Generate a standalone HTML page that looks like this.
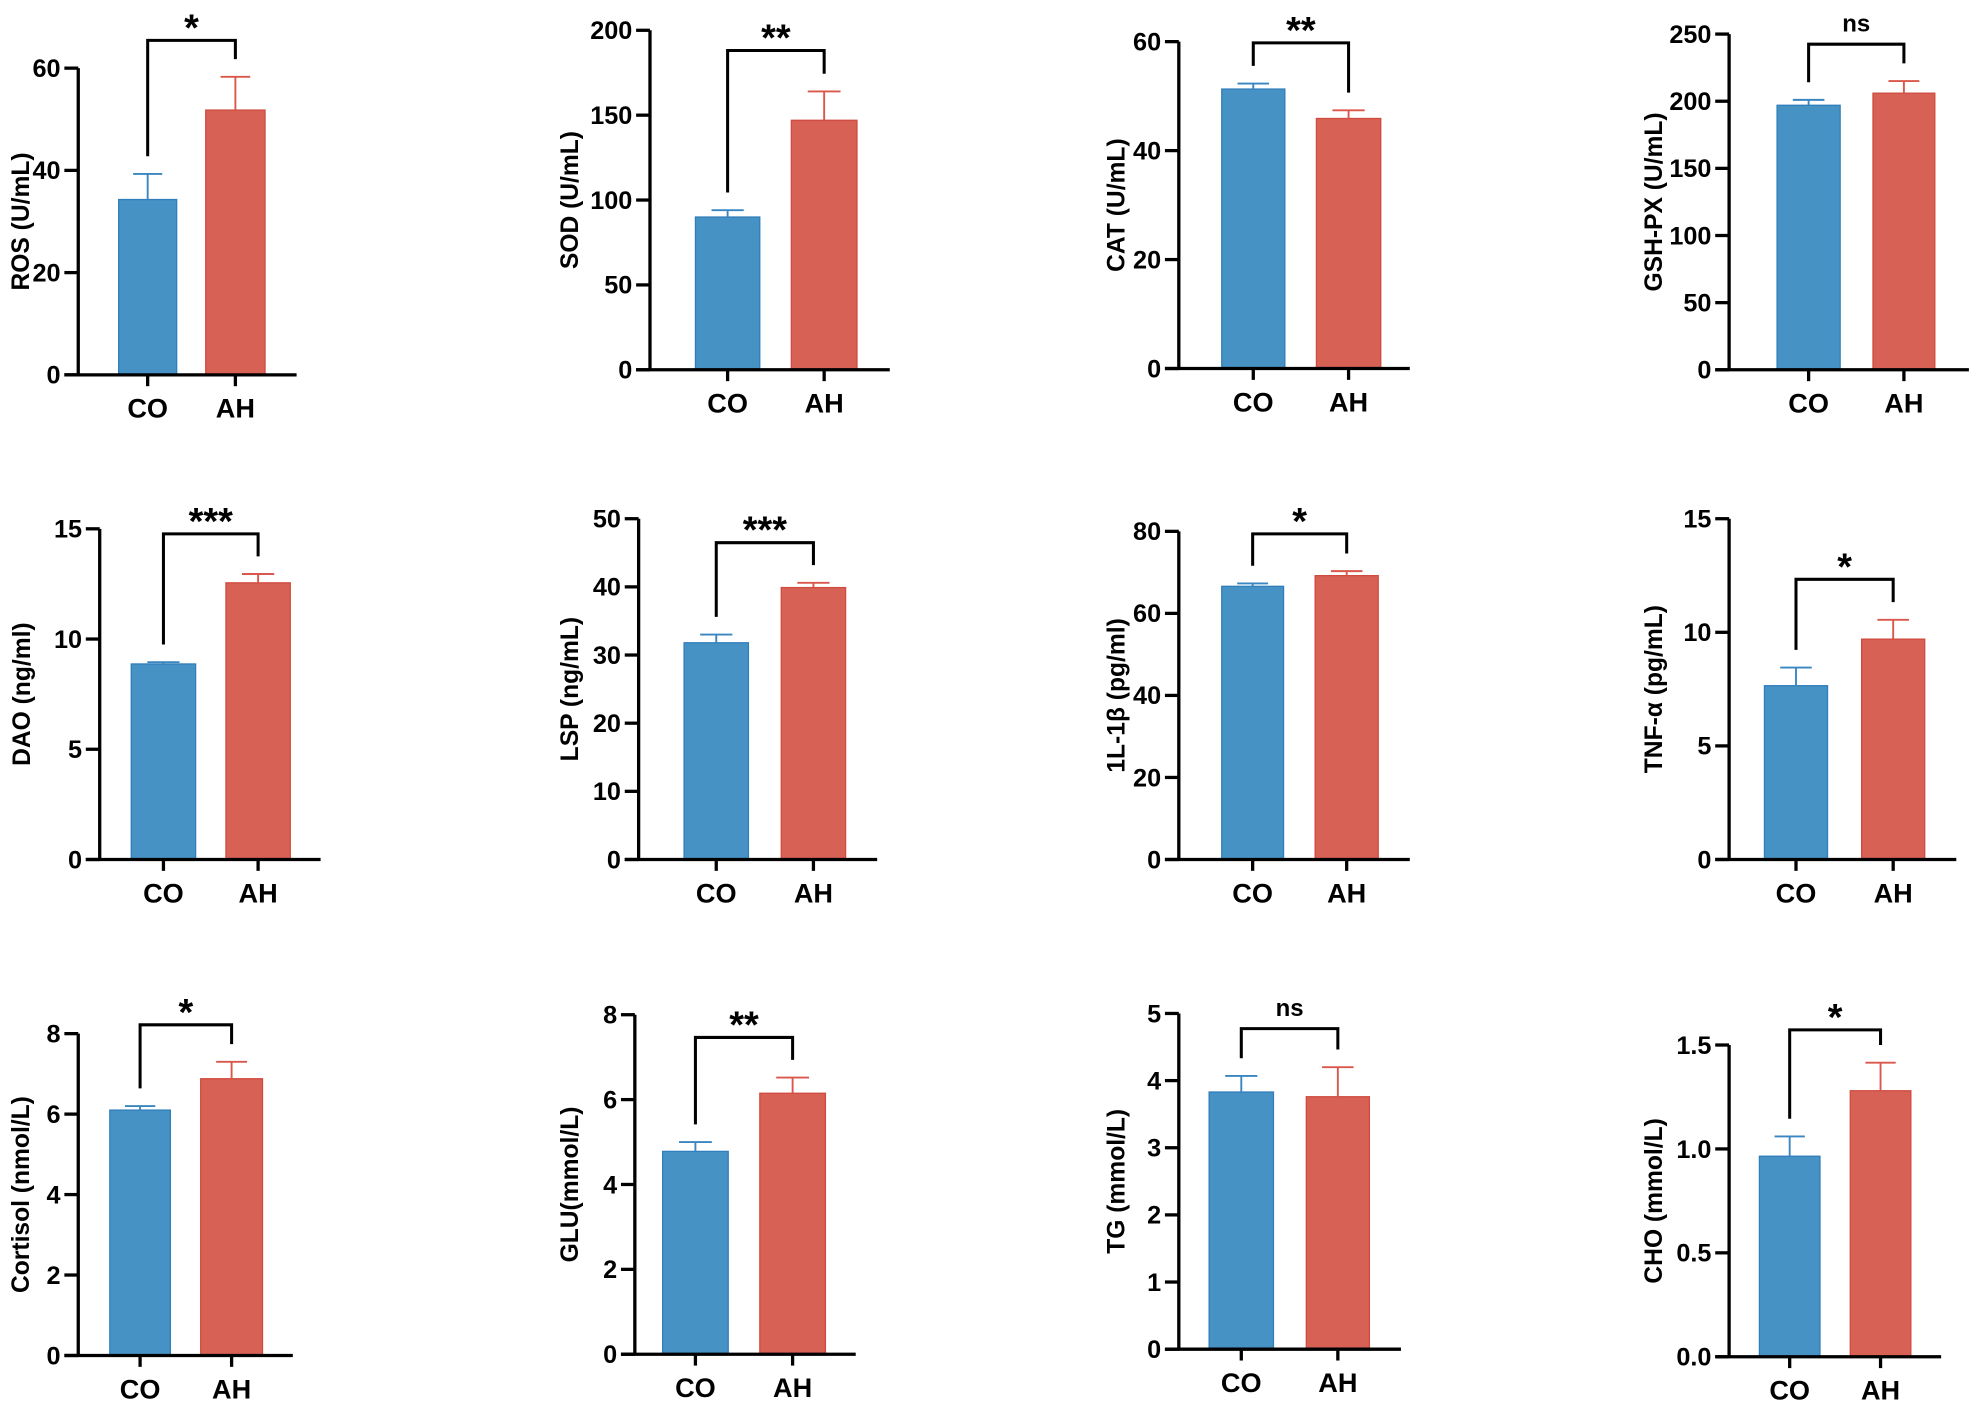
<!DOCTYPE html>
<html><head><meta charset="utf-8"><style>
html,body{margin:0;padding:0;background:#fff;}
svg{display:block;}
text{font-family:"Liberation Sans",Arial,sans-serif;font-weight:bold;fill:#000;}
</style></head><body>
<svg id="fig" width="1979" height="1409" viewBox="0 0 1568 1116.4" preserveAspectRatio="none" xmlns="http://www.w3.org/2000/svg"></svg>
<script>
const titles=["ROS (U/mL)","SOD (U/mL)","CAT (U/mL)","GSH-PX (U/mL)","DAO (ng/ml)","LSP (ng/mL)","1L-1β (pg/ml)","TNF-α (pg/mL)","Cortisol (nmol/L)","GLU(mmol/L)","TG (mmol/L)","CHO (mmol/L)"];
const categories=["CO","AH"];
const coMeans=[34.3,90,51.3,197,8.87,31.8,66.6,7.65,6.1,4.78,3.83,0.965];
const coErr=[5.0,4,1.0,4,0.08,1.2,0.7,0.8,0.1,0.22,0.24,0.095];
const ahMeans=[51.8,147,45.9,206,12.55,39.9,69.2,9.7,6.88,6.15,3.76,1.28];
const ahErr=[6.5,17,1.5,9,0.4,0.7,1.1,0.85,0.42,0.37,0.44,0.135];
const yMax=[60,200,60,250,15,50,80,15,8,8,5,1.5];
const yStep=[20,50,20,50,5,10,20,5,2,2,1,0.5];
const tickDecimals=[0,0,0,0,0,0,0,0,0,0,0,1];
const sigLabels=["*","**","**","ns","***","***","*","*","*","**","ns","*"];
// layout (not data)
const L=[
 {ax:62,y0:297,yt:54,b1:[94,140],b2:[163,210],end:235,br:32,tx:17},
 {ax:515,y0:293,yt:24,b1:[551,602],b2:[627,679],end:705,br:40,tx:452},
 {ax:934,y0:292,yt:33,b1:[968,1018],b2:[1043,1094],end:1117,br:34,tx:885},
 {ax:1370,y0:293,yt:27,b1:[1408,1458],b2:[1484,1533],end:1560,br:35,tx:1311},
 {ax:79,y0:681,yt:419,b1:[104,155],b2:[179,230],end:254,br:423,tx:18},
 {ax:506,y0:681,yt:411,b1:[542,593],b2:[619,670],end:695,br:430,tx:452},
 {ax:934,y0:681,yt:421,b1:[968,1017],b2:[1042,1092],end:1117,br:423,tx:885},
 {ax:1370,y0:681,yt:411,b1:[1398,1448],b2:[1475,1525],end:1550,br:459,tx:1311},
 {ax:62,y0:1074,yt:819,b1:[87,135],b2:[159,208],end:232,br:812,tx:17},
 {ax:503,y0:1073,yt:804,b1:[525,577],b2:[602,654],end:678,br:822,tx:452},
 {ax:934,y0:1069,yt:803,b1:[958,1009],b2:[1035,1085],end:1110,br:815,tx:885},
 {ax:1370,y0:1075,yt:828,b1:[1394,1442],b2:[1466,1514],end:1538,br:816,tx:1311}
];
const NS="http://www.w3.org/2000/svg";
const svg=document.getElementById('fig');
function mk(tag,attrs,parent){const e=document.createElementNS(NS,tag);for(const k in attrs)e.setAttribute(k,attrs[k]);(parent||svg).appendChild(e);return e;}
const cols=[{fill:"#4692c4",stroke:"#2f7dbb",err:"#3a86c0"},{fill:"#d66154",stroke:"#d04a3e",err:"#d9584b"}];
for(let i=0;i<12;i++){
  const l=L[i];
  const g=mk('g',{});
  
  
  const y=v=>l.y0-(v/yMax[i])*(l.y0-l.yt);
  const means=[coMeans[i],ahMeans[i]],errs=[coErr[i],ahErr[i]],bs=[l.b1,l.b2];
  for(let k=0;k<2;k++){
    const b=bs[k],c=cols[k],cx=(b[0]+b[1])/2,w=b[1]-b[0];
    const r=mk('rect',{x:b[0],y:y(means[k]),width:w,height:l.y0-y(means[k]),fill:c.fill,stroke:c.stroke,'stroke-width':1},g);
    
    
    const et=y(means[k]+errs[k]);
    const e=mk('path',{d:`M${cx},${y(means[k])}V${et}M${cx-w/4},${et}H${cx+w/4}`,stroke:c.err,'stroke-width':1.5,fill:'none'},g);
    
    
    mk('path',{d:`M${cx},${l.y0}V${l.y0+9}`,stroke:'#000','stroke-width':2.6},g);
    const xl=mk('text',{x:cx,y:l.y0+34,'text-anchor':'middle','font-size':21.5},g);
    xl.textContent=categories[k];
    
    
  }
  const ax=mk('path',{d:`M${l.ax},${l.yt}V${l.y0}M${l.ax-11},${l.y0}H${l.end}`,stroke:'#000','stroke-width':2.6,fill:'none'},g);
  
  
  for(let v=0;v<=yMax[i]+1e-9;v+=yStep[i]){
    const yy=y(v);
    mk('path',{d:`M${l.ax-11},${yy}H${l.ax}`,stroke:'#000','stroke-width':2.6},g);
    const t=mk('text',{x:l.ax-14,y:yy+7,'text-anchor':'end','font-size':20},g);
    t.textContent=v.toFixed(tickDecimals[i]);
    
    
  }
  const tcy=(l.y0+l.yt)/2;
  const tt=mk('text',{x:l.tx,y:tcy,'text-anchor':'middle','font-size':19.5,transform:`rotate(-90 ${l.tx} ${tcy})`,'dominant-baseline':'central'},g);
  tt.textContent=titles[i];
  
  
  const c1=(l.b1[0]+l.b1[1])/2,c2=(l.b2[0]+l.b2[1])/2;
  const lb=y(means[0]+errs[0])-14,rb=y(means[1]+errs[1])-14;
  const br=mk('path',{d:`M${c1},${lb}V${l.br}H${c2}V${rb}`,stroke:'#000','stroke-width':2.4,fill:'none'},g);
  
  
  const ns=sigLabels[i]==='ns';
  const st=mk('text',{x:(c1+c2)/2,y:ns?l.br-10:l.br,'text-anchor':'middle','font-size':ns?19:30},g);
  st.textContent=sigLabels[i];
  
  
}
</script>
</body></html>
